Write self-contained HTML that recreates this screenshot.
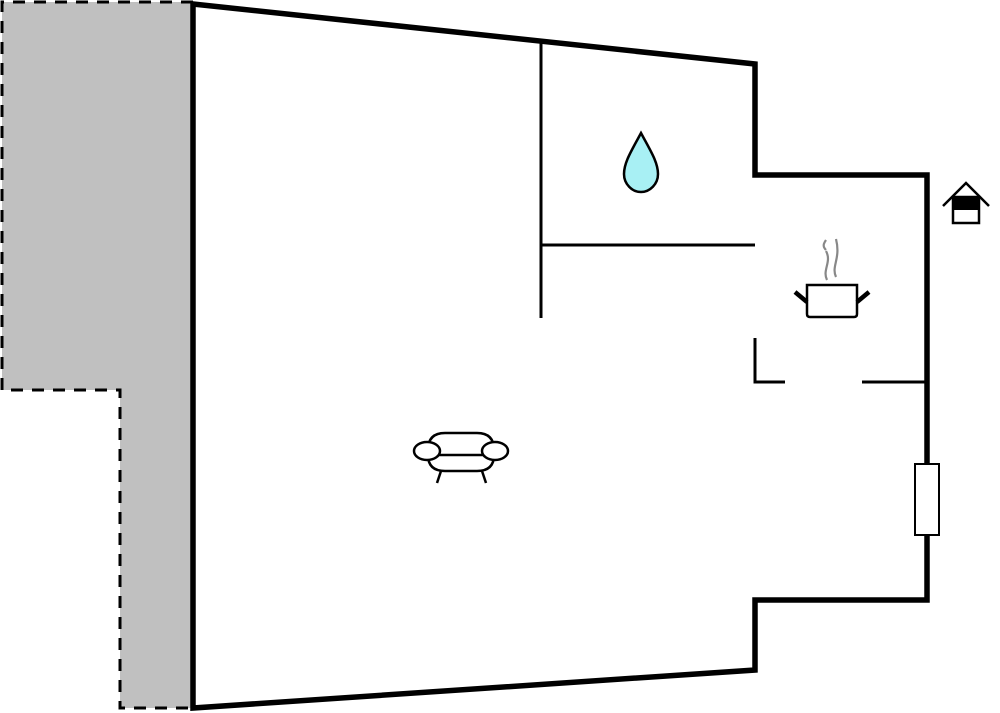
<!DOCTYPE html>
<html><head><meta charset="utf-8"><style>html,body{margin:0;padding:0;background:#fff}svg{display:block}</style></head>
<body>
<svg width="1000" height="713" viewBox="0 0 1000 713" xmlns="http://www.w3.org/2000/svg">
<polygon points="2,2 193,2 193,708 120,708 120,390 2,390" fill="#c0c0c0"/>
<polyline points="193,2 2,2 2,390 120,390 120,708 193,708" fill="none" stroke="#000" stroke-width="3" stroke-dasharray="12,9"/>
<polygon points="193,4 755,64 755,175 927,175 927,600 755,600 755,670 193,708" fill="#fff" stroke="#000" stroke-width="5.5" stroke-linejoin="miter"/>
<g stroke="#000" stroke-width="3" fill="none">
<line x1="541" y1="42" x2="541" y2="318"/>
<line x1="541" y1="245" x2="755" y2="245"/>
<polyline points="755,338 755,382 785,382"/>
<line x1="862" y1="382" x2="927" y2="382"/>
</g>
<rect x="915" y="464" width="24" height="71" fill="#fff" stroke="#000" stroke-width="2"/>
<path d="M641,133 C632,150 624,162 624,174 C624,184 632,192 641,192 C650,192 658,184 658,174 C658,162 650,150 641,133 Z" fill="#a8f0f4" stroke="#000" stroke-width="2.5"/>
<polyline points="943,206 966,183 989,206" fill="none" stroke="#000" stroke-width="2.5"/>
<rect x="953" y="197" width="26" height="26" fill="#fff" stroke="#000" stroke-width="2.5"/>
<rect x="953" y="197" width="26" height="13" fill="#000"/>
<path d="M827,280 C822,270 832,262 826,251 M836,277 C831,266 841,259 836,239 M826,250 C822,246 824,243 826,240" fill="none" stroke="#888" stroke-width="2.2"/>
<path d="M807,285 H857 V314 Q857,317 854,317 H810 Q807,317 807,314 Z" fill="#fff" stroke="#000" stroke-width="2.5"/>
<line x1="795" y1="292" x2="807" y2="302" stroke="#000" stroke-width="4.5"/>
<line x1="869" y1="292" x2="857" y2="302" stroke="#000" stroke-width="4.5"/>
<g fill="#fff" stroke="#000" stroke-width="2.5">
<path d="M428,450 Q428,433 445,433 H477 Q494,433 494,450 V455 Q494,471 477,471 H445 Q428,471 428,455 Z"/>
<line x1="437" y1="455" x2="485" y2="455"/>
<ellipse cx="427" cy="451" rx="13" ry="9"/>
<ellipse cx="495" cy="451" rx="13" ry="9"/>
<line x1="441" y1="471" x2="437" y2="483"/>
<line x1="482" y1="471" x2="486" y2="483"/>
</g>
</svg>
</body></html>
